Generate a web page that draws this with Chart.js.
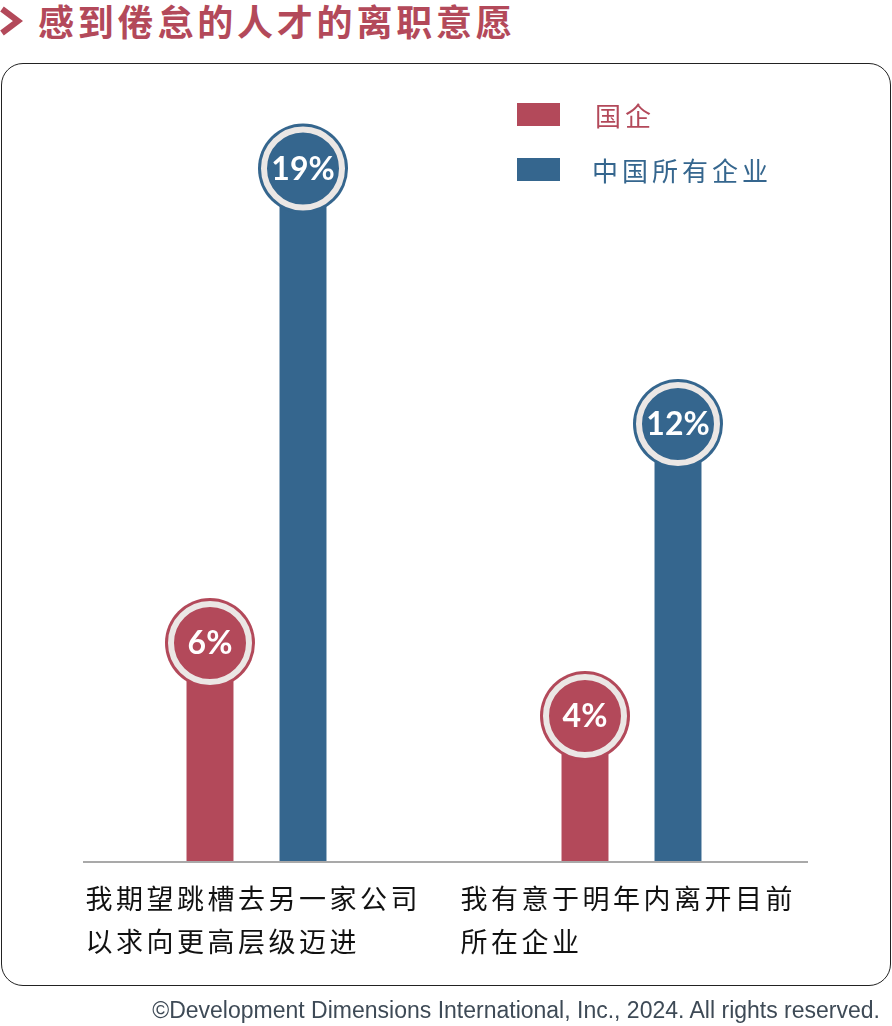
<!DOCTYPE html>
<html lang="zh">
<head>
  <meta charset="UTF-8" />
  <title>感到倦怠的人才的离职意愿</title>
  <script src="https://cdn.jsdelivr.net/npm/chart.js"></script>
  <style>
    body { margin: 0; background: #fff; font-family: "Noto Sans CJK SC", sans-serif; }
    #page { position: relative; width: 892px; height: 1026px; overflow: hidden; }
    #title { position: absolute; left: 38px; top: 0; line-height: 40px; font-size: 36px; font-weight: bold; color: #b3495a; letter-spacing: 3.8px; }
    #chevron { position: absolute; left: 0; top: 0; }
    #box { position: absolute; left: 1px; top: 63px; width: 888px; height: 921px; border: 1.5px solid #222; border-radius: 22px; }
    #chartWrap { position: absolute; left: 0; top: 0; width: 892px; height: 1026px; }
    #legend { position: absolute; left: 517px; top: 100px; }
    .legItem { position: absolute; left: 0; white-space: nowrap; }
    .legItem span.sw { position: absolute; left: 0; width: 43px; height: 23px; }
    .legItem span.tx { position: absolute; font-size: 26px; letter-spacing: 4px; line-height: 30px; }
    #footer { position: absolute; right: 12px; top: 997px; font-family: "Liberation Sans", Arial, sans-serif; font-size: 23px; color: #3e4a56; }
  </style>
</head>
<body>
<div id="page">
  <svg id="chevron" width="26" height="42"><polyline points="2,9 18,21 2,33" fill="none" stroke="#b3495a" stroke-width="6" stroke-linejoin="miter" /></svg>
  <div id="title">感到倦怠的人才的离职意愿</div>
  <div id="box"></div>
  <div id="chartWrap"><canvas id="chart"></canvas></div>
  <div id="legend"></div>
  <div id="footer">©Development Dimensions International, Inc., 2024. All rights reserved.</div>
</div>

<script>
  // data
  const categories = [
    ['我期望跳槽去另一家公司', '以求向更高层级迈进'],
    ['我有意于明年内离开目前', '所在企业']
  ];
  const seriesNames = ['国企', '中国所有企业'];
  const soeValues = [6, 4];
  const allValues = [19, 12];
  const seriesColors = ['#b3495a', '#35668e'];

  // legend
  const legend = document.getElementById('legend');
  seriesNames.forEach((name, i) => {
    const item = document.createElement('div');
    item.className = 'legItem';
    item.style.top = (i * 55) + 'px';
    item.innerHTML = `<span class="sw" style="background:${seriesColors[i]};top:3px"></span>` +
      `<span class="tx" style="color:${seriesColors[i]};left:${i === 0 ? 78 : 75}px;top:0">${name}</span>`;
    legend.appendChild(item);
  });

  // circles with the value on top of each bar
  const bubbles = {
    id: 'bubbles',
    beforeDraw(chart) {
      chart.ctx.letterSpacing = '3.5px';
    },
    beforeDatasetsDraw(chart) {
      chart.ctx.letterSpacing = '0px';
    },
    afterDatasetsDraw(chart) {
      const ctx = chart.ctx;
      chart.data.datasets.forEach((ds, di) => {
        chart.getDatasetMeta(di).data.forEach((bar, i) => {
          ctx.save();
          ctx.fillStyle = ds.backgroundColor;
          ctx.beginPath();
          ctx.arc(bar.x, bar.y, 45, 0, Math.PI * 2);
          ctx.fill();
          ctx.strokeStyle = '#ebe7e5';
          ctx.lineWidth = 6;
          ctx.beginPath();
          ctx.arc(bar.x, bar.y, 39, 0, Math.PI * 2);
          ctx.stroke();
          ctx.fillStyle = '#fff';
          ctx.font = 'bold 32px Lato, sans-serif';
          ctx.textAlign = 'center';
          ctx.textBaseline = 'middle';
          ctx.fillText(ds.data[i] + '%', bar.x, bar.y + 1);
          ctx.restore();
        });
      });
    },
    afterDraw(chart) {
      // baseline
      const ctx = chart.ctx;
      const y = chart.chartArea.bottom;
      ctx.save();
      ctx.strokeStyle = '#a9a9a9';
      ctx.lineWidth = 2;
      ctx.beginPath();
      ctx.moveTo(83, y);
      ctx.lineTo(808, y);
      ctx.stroke();
      ctx.restore();
    }
  };

  new Chart(document.getElementById('chart'), {
    type: 'bar',
    data: {
      labels: categories,
      datasets: [
        { label: seriesNames[0], data: soeValues, backgroundColor: seriesColors[0] },
        { label: seriesNames[1], data: allValues, backgroundColor: seriesColors[1] }
      ]
    },
    options: {
      responsive: true,
      maintainAspectRatio: false,
      animation: false,
      layout: { padding: { left: 69, right: 73, top: 132, bottom: 56 } },
      datasets: { bar: { categoryPercentage: 0.496, barPercentage: 0.505 } },
      plugins: { legend: { display: false }, tooltip: { enabled: false } },
      scales: {
        x: {
          grid: { display: false },
          border: { display: false },
          afterFit(axis) {
            axis.paddingLeft = 0;
            axis.paddingRight = 0;
          },
          ticks: {
            color: '#111',
            font: { family: '"Noto Sans CJK SC", sans-serif', size: 27, lineHeight: 43 / 27 },
            align: 'start',
            labelOffset: -171,
            padding: 7,
            autoSkip: false,
            maxRotation: 0
          }
        },
        y: { display: false, min: 0, max: 20 }
      }
    },
    plugins: [bubbles]
  });
</script>
</body>
</html>
